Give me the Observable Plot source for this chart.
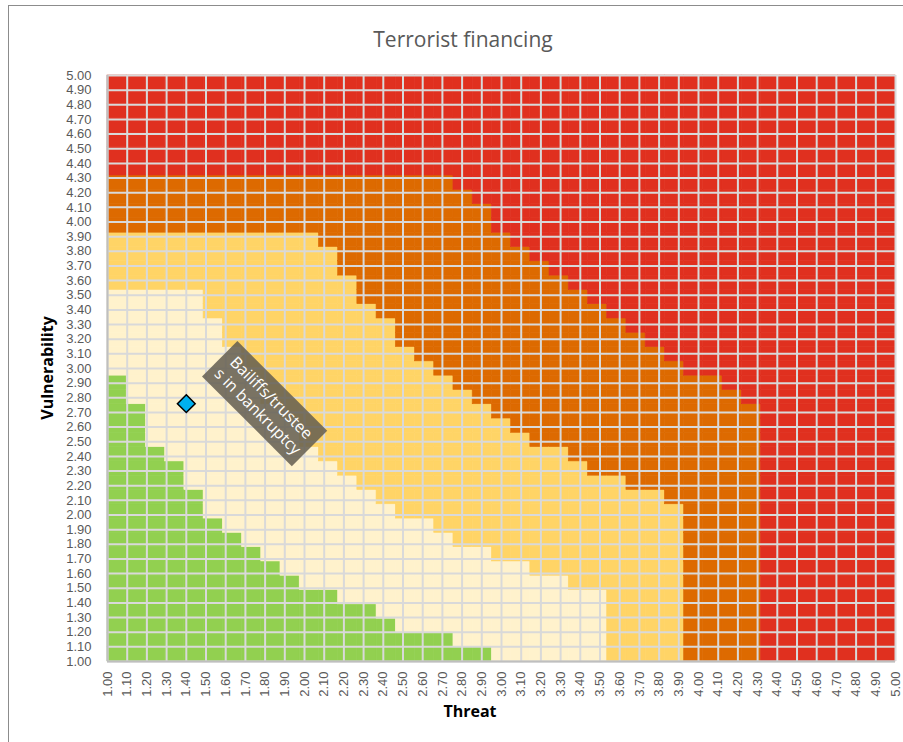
<!DOCTYPE html>
<html>
<head>
<meta charset="utf-8">
<script src="https://cdn.jsdelivr.net/npm/d3@7"></script>
<script src="https://cdn.jsdelivr.net/npm/@observablehq/plot@0.6"></script>
<style>
  html, body { margin: 0; padding: 0; background: #fff; }
  #wrap { position: relative; width: 903px; height: 742px; overflow: hidden; }
  #wrap > svg { position: absolute; left: 0; top: 0; }
</style>
</head>
<body>
<div id="wrap"></div>
<script>
// ---------- data ----------
const title = "Terrorist financing";
const xTitle = "Threat";
const yTitle = "Vulnerability";

// threat and vulnerability levels (axis ticks and heat-map rows/columns)
const scaleValues = [1.0, 1.1, 1.2, 1.3, 1.4, 1.5, 1.6, 1.7, 1.8, 1.9,
                     2.0, 2.1, 2.2, 2.3, 2.4, 2.5, 2.6, 2.7, 2.8, 2.9,
                     3.0, 3.1, 3.2, 3.3, 3.4, 3.5, 3.6, 3.7, 3.8, 3.9,
                     4.0, 4.1, 4.2, 4.3, 4.4, 4.5, 4.6, 4.7, 4.8, 4.9, 5.0];

// highest vulnerability level of each zone for every threat column (null = zone absent)
const greenTop  = [2.9, 2.7, 2.4, 2.3, 2.1, 1.9, 1.8, 1.7, 1.6, 1.5,
                   1.4, 1.4, 1.3, 1.3, 1.2, 1.1, 1.1, 1.1, 1.0, 1.0,
                   null, null, null, null, null, null, null, null, null, null,
                   null, null, null, null, null, null, null, null, null, null, null];
const creamTop  = [3.5, 3.5, 3.5, 3.5, 3.5, 3.3, 3.1, 2.9, 2.7, 2.6,
                   2.4, 2.3, 2.2, 2.1, 2.0, 1.9, 1.9, 1.8, 1.7, 1.7,
                   1.6, 1.6, 1.5, 1.5, 1.4, 1.4, null, null, null, null,
                   null, null, null, null, null, null, null, null, null, null, null];
const yellowTop = [3.9, 3.9, 3.9, 3.9, 3.9, 3.9, 3.9, 3.9, 3.9, 3.9,
                   3.9, 3.8, 3.6, 3.4, 3.3, 3.1, 3.0, 2.9, 2.8, 2.7,
                   2.6, 2.5, 2.4, 2.4, 2.3, 2.2, 2.2, 2.1, 2.1, 2.0,
                   null, null, null, null, null, null, null, null, null, null, null];
const orangeTop = [4.3, 4.3, 4.3, 4.3, 4.3, 4.3, 4.3, 4.3, 4.3, 4.3,
                   4.3, 4.3, 4.3, 4.3, 4.3, 4.3, 4.3, 4.3, 4.2, 4.1,
                   3.9, 3.8, 3.7, 3.6, 3.5, 3.4, 3.3, 3.2, 3.1, 3.0,
                   2.9, 2.9, 2.8, 2.7, null, null, null, null, null, null, null];

const zoneNames  = ["low", "moderate", "significant", "high", "very high"];
const zoneColors = ["#92D050", "#FFF2CC", "#FFD466", "#DD6A00", "#E0301F"];

// plotted sector
const points = [{threat: 1.40, vulnerability: 2.76}];
const notes  = [{threat: 1.80, vulnerability: 2.757, text: "Bailiffs/trustee\ns in bankruptcy"}];

// ---------- layout ----------
const W = 903, H = 742;
const M = {left: 107, right: 8, top: 75, bottom: 81};
const tickFont = "'Liberation Sans', Arial, sans-serif";

// ---------- heat-map cells ----------
const tops = [greenTop, creamTop, yellowTop, orangeTop];
const cells = [];
scaleValues.forEach((t, i) => {
  scaleValues.forEach(v => {
    let z = 4;
    for (let k = 0; k < tops.length; k++) {
      const top = tops[k][i];
      if (top != null && v <= top + 1e-9) { z = k; break; }
    }
    cells.push({threat: t, vulnerability: v, zone: zoneNames[z]});
  });
});

const heat = Plot.plot({
  width: W, height: H,
  marginLeft: M.left, marginRight: M.right, marginTop: M.top, marginBottom: M.bottom,
  style: {background: "white"},
  x: {type: "band", domain: scaleValues, padding: 0, round: false, axis: null},
  y: {type: "band", domain: scaleValues.slice().reverse(), padding: 0, round: false, axis: null},
  color: {domain: zoneNames, range: zoneColors},
  marks: [
    Plot.cell(cells, {x: "threat", y: "vulnerability", fill: "zone", stroke: "zone", strokeWidth: 0.6})
  ]
});

// label box drawn through the scales
function noteBoxes(index, scales) {
  const g = d3.create("svg:g");
  for (const d of notes) {
    const cx = scales.x(d.threat), cy = scales.y(d.vulnerability);
    g.append("rect")
      .attr("x", -63.5).attr("y", -25).attr("width", 127).attr("height", 50)
      .attr("transform", `translate(${cx},${cy}) rotate(45)`)
      .attr("fill", "#645E52").attr("fill-opacity", 0.86);
  }
  return g.node();
}

const fmt = d => d.toFixed(2);
const overlay = Plot.plot({
  width: W, height: H,
  marginLeft: M.left, marginRight: M.right, marginTop: M.top, marginBottom: M.bottom,
  style: {background: "transparent", color: "#595959", fontSize: "13px", fontFamily: tickFont},
  x: {domain: [1, 5], ticks: scaleValues, tickFormat: fmt, tickSize: 0, tickPadding: 10, tickRotate: -90, label: null},
  y: {domain: [1, 5], ticks: scaleValues, tickFormat: fmt, tickSize: 0, tickPadding: 16, label: null},
  marks: [
    Plot.ruleX(scaleValues, {stroke: "#D9D9D9", strokeWidth: 2}),
    Plot.ruleY(scaleValues, {stroke: "#D9D9D9", strokeWidth: 2}),
    Plot.ruleX([1], {stroke: "#BFBFBF", strokeWidth: 2}),
    Plot.ruleY([1], {stroke: "#BFBFBF", strokeWidth: 2}),
    noteBoxes,
    Plot.text(notes, {x: "threat", y: "vulnerability", text: "text", rotate: 45, fill: "white",
                      fontSize: 16, lineHeight: 1.2, fontFamily: "'Open Sans', sans-serif"}),
    Plot.dot(points, {x: "threat", y: "vulnerability", symbol: "diamond2", r: 8,
                      fill: "#00B0F0", stroke: "#000", strokeWidth: 1.5})
  ]
});

// ---------- titles and frame ----------
const deco = d3.create("svg").attr("width", W).attr("height", H)
  .style("font-family", "'Open Sans', sans-serif").style("pointer-events", "none");
deco.append("line").attr("x1", 8).attr("x2", W).attr("y1", 5.5).attr("y2", 5.5).attr("stroke", "#8C8C8C");
deco.append("line").attr("x1", 8.5).attr("x2", 8.5).attr("y1", 5).attr("y2", H).attr("stroke", "#8C8C8C");
deco.append("text").attr("x", 463).attr("y", 47).attr("text-anchor", "middle")
  .attr("font-size", 21).attr("fill", "#595959").text(title);
deco.append("text").attr("transform", "translate(53,368) rotate(-90)").attr("text-anchor", "middle")
  .attr("font-size", 16).attr("font-weight", "bold").attr("fill", "#000").text(yTitle);
deco.append("text").attr("x", 470).attr("y", 717).attr("text-anchor", "middle")
  .attr("font-size", 16).attr("font-weight", "bold").attr("fill", "#000").text(xTitle);

const wrap = document.getElementById("wrap");
wrap.appendChild(heat);
wrap.appendChild(overlay);
wrap.appendChild(deco.node());
</script>
</body>
</html>
